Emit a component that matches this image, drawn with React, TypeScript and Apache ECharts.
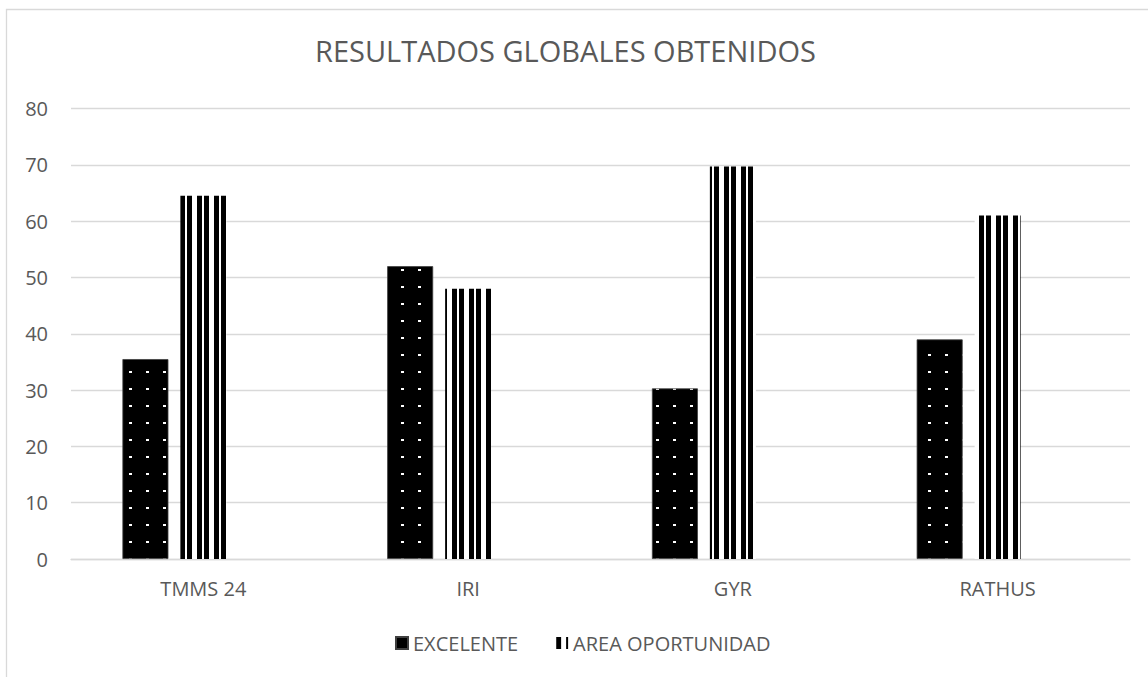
import React, { useEffect, useRef } from "react";
import * as echarts from "echarts";

const categories = ["TMMS 24", "IRI", "GYR", "RATHUS"];
const excelente = [35.5, 52, 30.3, 39];
const areaOportunidad = [64.5, 48, 69.7, 61];
const yMin = 0;
const yMax = 80;
const yInterval = 10;
const titleText = "RESULTADOS GLOBALES OBTENIDOS";
const seriesNames = ["EXCELENTE", "AREA OPORTUNIDAD"];

function makeDots(): HTMLCanvasElement {
  const c = document.createElement("canvas");
  c.width = 17;
  c.height = 17;
  const ctx = c.getContext("2d")!;
  ctx.fillStyle = "#000000";
  ctx.fillRect(0, 0, 17, 17);
  ctx.fillStyle = "#ffffff";
  ctx.fillRect(10, 14, 3, 2);
  return c;
}

function makeStripes(): HTMLCanvasElement {
  const c = document.createElement("canvas");
  c.width = 17;
  c.height = 17;
  const ctx = c.getContext("2d")!;
  ctx.fillStyle = "#ffffff";
  ctx.fillRect(0, 0, 17, 17);
  ctx.fillStyle = "#000000";
  ctx.fillRect(0, 0, 5, 17);
  ctx.fillRect(10, 0, 5, 17);
  return c;
}

export default function App() {
  const ref = useRef<HTMLDivElement>(null);
  useEffect(() => {
    if (!ref.current) return;
    const chart = echarts.init(ref.current, null, { renderer: "svg" });
    const dots = makeDots();
    const stripes = makeStripes();
    const font = "'Open Sans', sans-serif";
    chart.setOption({
      animation: false,
      backgroundColor: "#ffffff",
      title: {
        text: titleText,
        left: 310,
        top: 31,
        textStyle: {
          fontFamily: font,
          fontSize: 29,
          fontWeight: "normal",
          color: "#595959",
        },
      },
      graphic: [
        {
          type: "rect",
          shape: { x: 6.5, y: 9.5, width: 1200, height: 800 },
          style: { fill: "none", stroke: "#d9d9d9", lineWidth: 1.3 },
          silent: true,
          z: -10,
        },
      ],
      legend: {
        data: seriesNames,
        left: 390,
        top: 628,
        itemWidth: 12,
        itemHeight: 12,
        itemGap: 38,
        icon: "rect",
        textStyle: { fontFamily: font, fontSize: 20, color: "#595959" },
      },
      grid: { left: 71, right: 18, top: 108.5, bottom: 118, containLabel: false },
      xAxis: {
        type: "category",
        data: categories,
        axisLine: { show: true, lineStyle: { color: "#d9d9d9", width: 1.3 } },
        axisTick: { show: false },
        axisLabel: { fontFamily: font, fontSize: 20, color: "#595959", margin: 19 },
      },
      yAxis: {
        type: "value",
        min: yMin,
        max: yMax,
        interval: yInterval,
        axisLine: { show: false },
        axisTick: { show: false },
        splitLine: { lineStyle: { color: "#d9d9d9", width: 1.3 } },
        axisLabel: { fontFamily: font, fontSize: 20, color: "#595959", margin: 23 },
      },
      series: [
        {
          name: seriesNames[0],
          type: "bar",
          data: excelente,
          barWidth: 46,
          barGap: "26%",
          itemStyle: {
            color: { image: dots, repeat: "repeat" },
            borderColor: "#404040",
            borderWidth: 0.8,
          },
        },
        {
          name: seriesNames[1],
          type: "bar",
          data: areaOportunidad,
          barWidth: 46,
          barGap: "26%",
          itemStyle: {
            color: { image: stripes, repeat: "repeat" },
          },
        },
        {
          name: "",
          type: "bar",
          data: [],
          barWidth: 46,
          barGap: "26%",
        },
      ],
    });
    return () => chart.dispose();
  }, []);
  return (
    <div
      ref={ref}
      style={{ position: "absolute", left: 0, top: 0, width: 1148, height: 677 }}
    />
  );
}
